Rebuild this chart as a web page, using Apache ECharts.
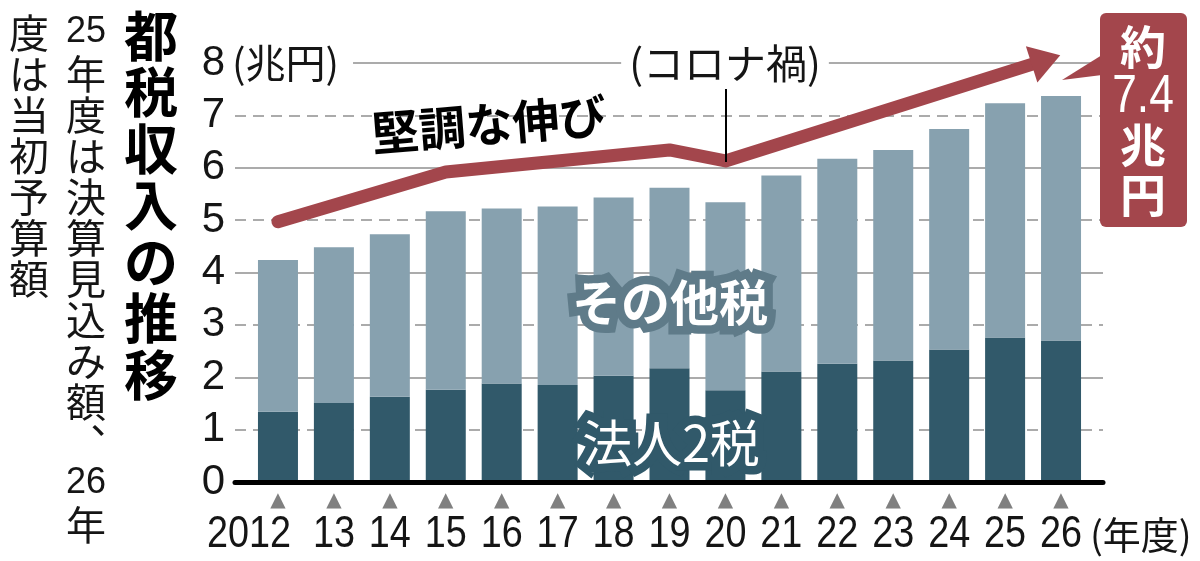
<!DOCTYPE html>
<html>
<head>
<meta charset="utf-8">
<script src="https://cdn.jsdelivr.net/npm/echarts@6/dist/echarts.min.js"></script>
<style>
html, body { margin: 0; padding: 0; background: #fff; }
#chart { width: 1200px; height: 561px; }
</style>
</head>
<body>
<div id="chart"></div>
<script>
// 年度
const years = ['2012', '13', '14', '15', '16', '17', '18', '19', '20', '21', '22', '23', '24', '25', '26'];
// 法人2税（兆円）
const corpTax = [1.34, 1.51, 1.63, 1.76, 1.88, 1.85, 2.03, 2.17, 1.75, 2.11, 2.26, 2.32, 2.53, 2.76, 2.70];
// その他税（兆円）
const otherTax = [2.90, 2.97, 3.10, 3.41, 3.34, 3.41, 3.40, 3.45, 3.59, 3.74, 3.91, 4.02, 4.21, 4.47, 4.67];
// 堅調な伸び の矢印 [年度の位置, 兆円]
const trendPoints = [[0, 4.97], [3, 5.92], [7, 6.34], [8, 6.13], [13.73, 8.06]];

const sans = "'Liberation Sans', Arial, sans-serif";
const jp = "'Noto Sans CJK JP', sans-serif";
const red = '#a3464c';
const dark = '#31596a';
const light = '#87a1af';
const ink = '#151515';

let chart = echarts.init(document.getElementById('chart'), null, { renderer: 'canvas' });

let trendData = trendPoints.map(function (p, i) {
    if (i === trendPoints.length - 1) {
        return {
            value: p,
            symbol: 'triangle',
            symbolSize: [38, 30],
            symbolRotate: -72.4
        };
    }
    return { value: p };
});

// 白抜き文字（縁取り付き）
function haloText(text, x, y, font, halo) {
    return [
        {
            type: 'text', x: x, y: y, z: 10,
            style: {
                text: text, font: font, fill: halo, stroke: halo, lineWidth: 17, lineJoin: 'round',
                align: 'center', verticalAlign: 'middle'
            }
        },
        {
            type: 'text', x: x, y: y, z: 11,
            style: { text: text, font: font, fill: '#fff', align: 'center', verticalAlign: 'middle' }
        }
    ];
}

let graphics = [
    // タイトル（縦書き）
    {
        type: 'text', left: 124, top: 8,
        style: {
            text: '都\n税\n収\n入\nの\n推\n移',
            font: 'bold 54px ' + jp, fill: '#000', lineHeight: 56.5
        }
    },
    {
        type: 'text', left: 66, top: 12,
        style: {
            text: '{d|25}\n年\n度\nは\n決\n算\n見\n込\nみ\n額\n︑\n{d|26}\n年',
            font: '40px ' + jp, fill: ink, lineHeight: 41, align: 'center', width: 40,
            rich: { d: { fontFamily: sans, fontSize: 36, lineHeight: 41 } }
        }
    },
    {
        type: 'text', left: 9, top: 12,
        style: { text: '度\nは\n当\n初\n予\n算\n額', font: '40px ' + jp, fill: ink, lineHeight: 41 }
    },
    // 単位
    {
        type: 'text', x: 230, y: 63, z: 5,
        style: {
            text: '(兆円)', font: '40px ' + jp, fill: ink, align: 'left', verticalAlign: 'middle',
            backgroundColor: '#fff', padding: [0, 14, 0, 2]
        }
    },
    // コロナ禍
    {
        type: 'text', x: 725, y: 63, z: 5,
        style: {
            text: '(コロナ禍)', font: '41px ' + jp, fill: ink, align: 'center', verticalAlign: 'middle',
            backgroundColor: '#fff', padding: [0, 8, 0, 8]
        }
    },
    {
        type: 'line', z: 10,
        shape: { x1: 726, y1: 89, x2: 726, y2: 162 },
        style: { stroke: '#000', lineWidth: 2 }
    },
    // 堅調な伸び
    {
        type: 'text', x: 489, y: 124, rotation: 0.08, z: 10,
        style: { text: '堅調な伸び', font: 'bold 47px ' + jp, fill: '#000', align: 'center', verticalAlign: 'middle' }
    }
].concat(
    haloText('その他税', 670, 302, 'bold 49px ' + jp, '#5f7b89'),
    haloText('法人2税', 671, 443, '50px ' + jp, dark),
    [
        // 年度
        {
            type: 'text', x: 1090, y: 535,
            style: { text: '(年度)', font: '38px ' + jp, fill: ink, align: 'left', verticalAlign: 'middle' }
        },
        // 約7.4兆円
        {
            type: 'polygon', z: 10,
            shape: { points: [[1102, 55], [1062, 80], [1102, 75]] },
            style: { fill: red }
        },
        {
            type: 'rect', z: 10,
            shape: { x: 1100, y: 13, width: 87, height: 214, r: 6 },
            style: { fill: red }
        },
        {
            type: 'text', x: 1143, y: 47, z: 11,
            style: { text: '約', font: 'bold 46px ' + jp, fill: '#fff', align: 'center', verticalAlign: 'middle' }
        },
        {
            type: 'text', x: 1143, y: 97, z: 11, scaleX: 0.82,
            style: { text: '7.4', font: '54px ' + sans, fill: '#fff', align: 'center', verticalAlign: 'middle' }
        },
        {
            type: 'text', x: 1143, y: 145, z: 11,
            style: { text: '兆', font: 'bold 46px ' + jp, fill: '#fff', align: 'center', verticalAlign: 'middle' }
        },
        {
            type: 'text', x: 1143, y: 195, z: 11,
            style: { text: '円', font: 'bold 46px ' + jp, fill: '#fff', align: 'center', verticalAlign: 'middle' }
        }
    ]
);

let option = {
    animation: false,
    backgroundColor: '#fff',
    grid: [
        { left: 235, right: 97, top: 63, bottom: 79 },   // 目盛線と軸線
        { left: 250, right: 111, top: 63, bottom: 79 }   // 棒
    ],
    xAxis: [
        {
            gridIndex: 0, type: 'value', min: 0, max: 1,
            axisLine: { show: true, lineStyle: { color: '#000', width: 5 } },
            axisTick: { show: false }, axisLabel: { show: false }, splitLine: { show: false },
            z: 5
        },
        {
            gridIndex: 1, type: 'category', data: years,
            axisLine: { show: false }, axisTick: { show: false },
            axisLabel: {
                margin: 9, interval: 0,
                formatter: '▲',
                fontSize: 20, color: '#808080', fontFamily: 'DejaVu Sans'
            }
        },
        { gridIndex: 1, type: 'value', min: -0.5, max: 14.5, show: false }
    ],
    yAxis: [
        {
            gridIndex: 0, type: 'value', min: 0, max: 8, interval: 1,
            axisLine: { show: false }, axisTick: { show: false },
            axisLabel: { fontSize: 42, color: ink, margin: 10, fontFamily: sans },
            splitLine: { lineStyle: { color: '#ababab', width: 2, type: [11, 7] } }
        },
        {
            gridIndex: 0, type: 'value', min: 0, max: 8, interval: 2,
            axisLine: { show: false }, axisTick: { show: false }, axisLabel: { show: false },
            splitLine: { lineStyle: { color: '#ababab', width: 2 } }
        },
        { gridIndex: 1, type: 'value', min: 0, max: 8, show: false }
    ],
    series: [
        {
            name: '法人2税', type: 'bar', stack: 'tax',
            xAxisIndex: 1, yAxisIndex: 2,
            barWidth: 40, itemStyle: { color: dark },
            data: corpTax, silent: true
        },
        {
            name: 'その他税', type: 'bar', stack: 'tax',
            xAxisIndex: 1, yAxisIndex: 2,
            barWidth: 40, itemStyle: { color: light },
            data: otherTax, silent: true
        },
        {
            name: '堅調な伸び', type: 'line',
            xAxisIndex: 2, yAxisIndex: 2,
            clip: false, silent: true, z: 6,
            symbol: 'circle', symbolSize: 0, showSymbol: true,
            itemStyle: { color: red },
            lineStyle: { color: red, width: 13, cap: 'round', join: 'round' },
            data: trendData
        }
    ],
    graphic: graphics
};

chart.setOption(option);

// 年度ラベル：カテゴリ軸の位置に、幅を詰めた数字で置く
let yearLabels = years.map(function (y, i) {
    let px = chart.convertToPixel({ xAxisIndex: 1 }, y);
    return {
        type: 'text', x: i === 0 ? px - 29 : px, y: 535, scaleX: 0.84,
        style: { text: y, font: '45px ' + sans, fill: ink, align: 'center', verticalAlign: 'middle' }
    };
});
chart.setOption({ graphic: graphics.concat(yearLabels) });
</script>
</body>
</html>
